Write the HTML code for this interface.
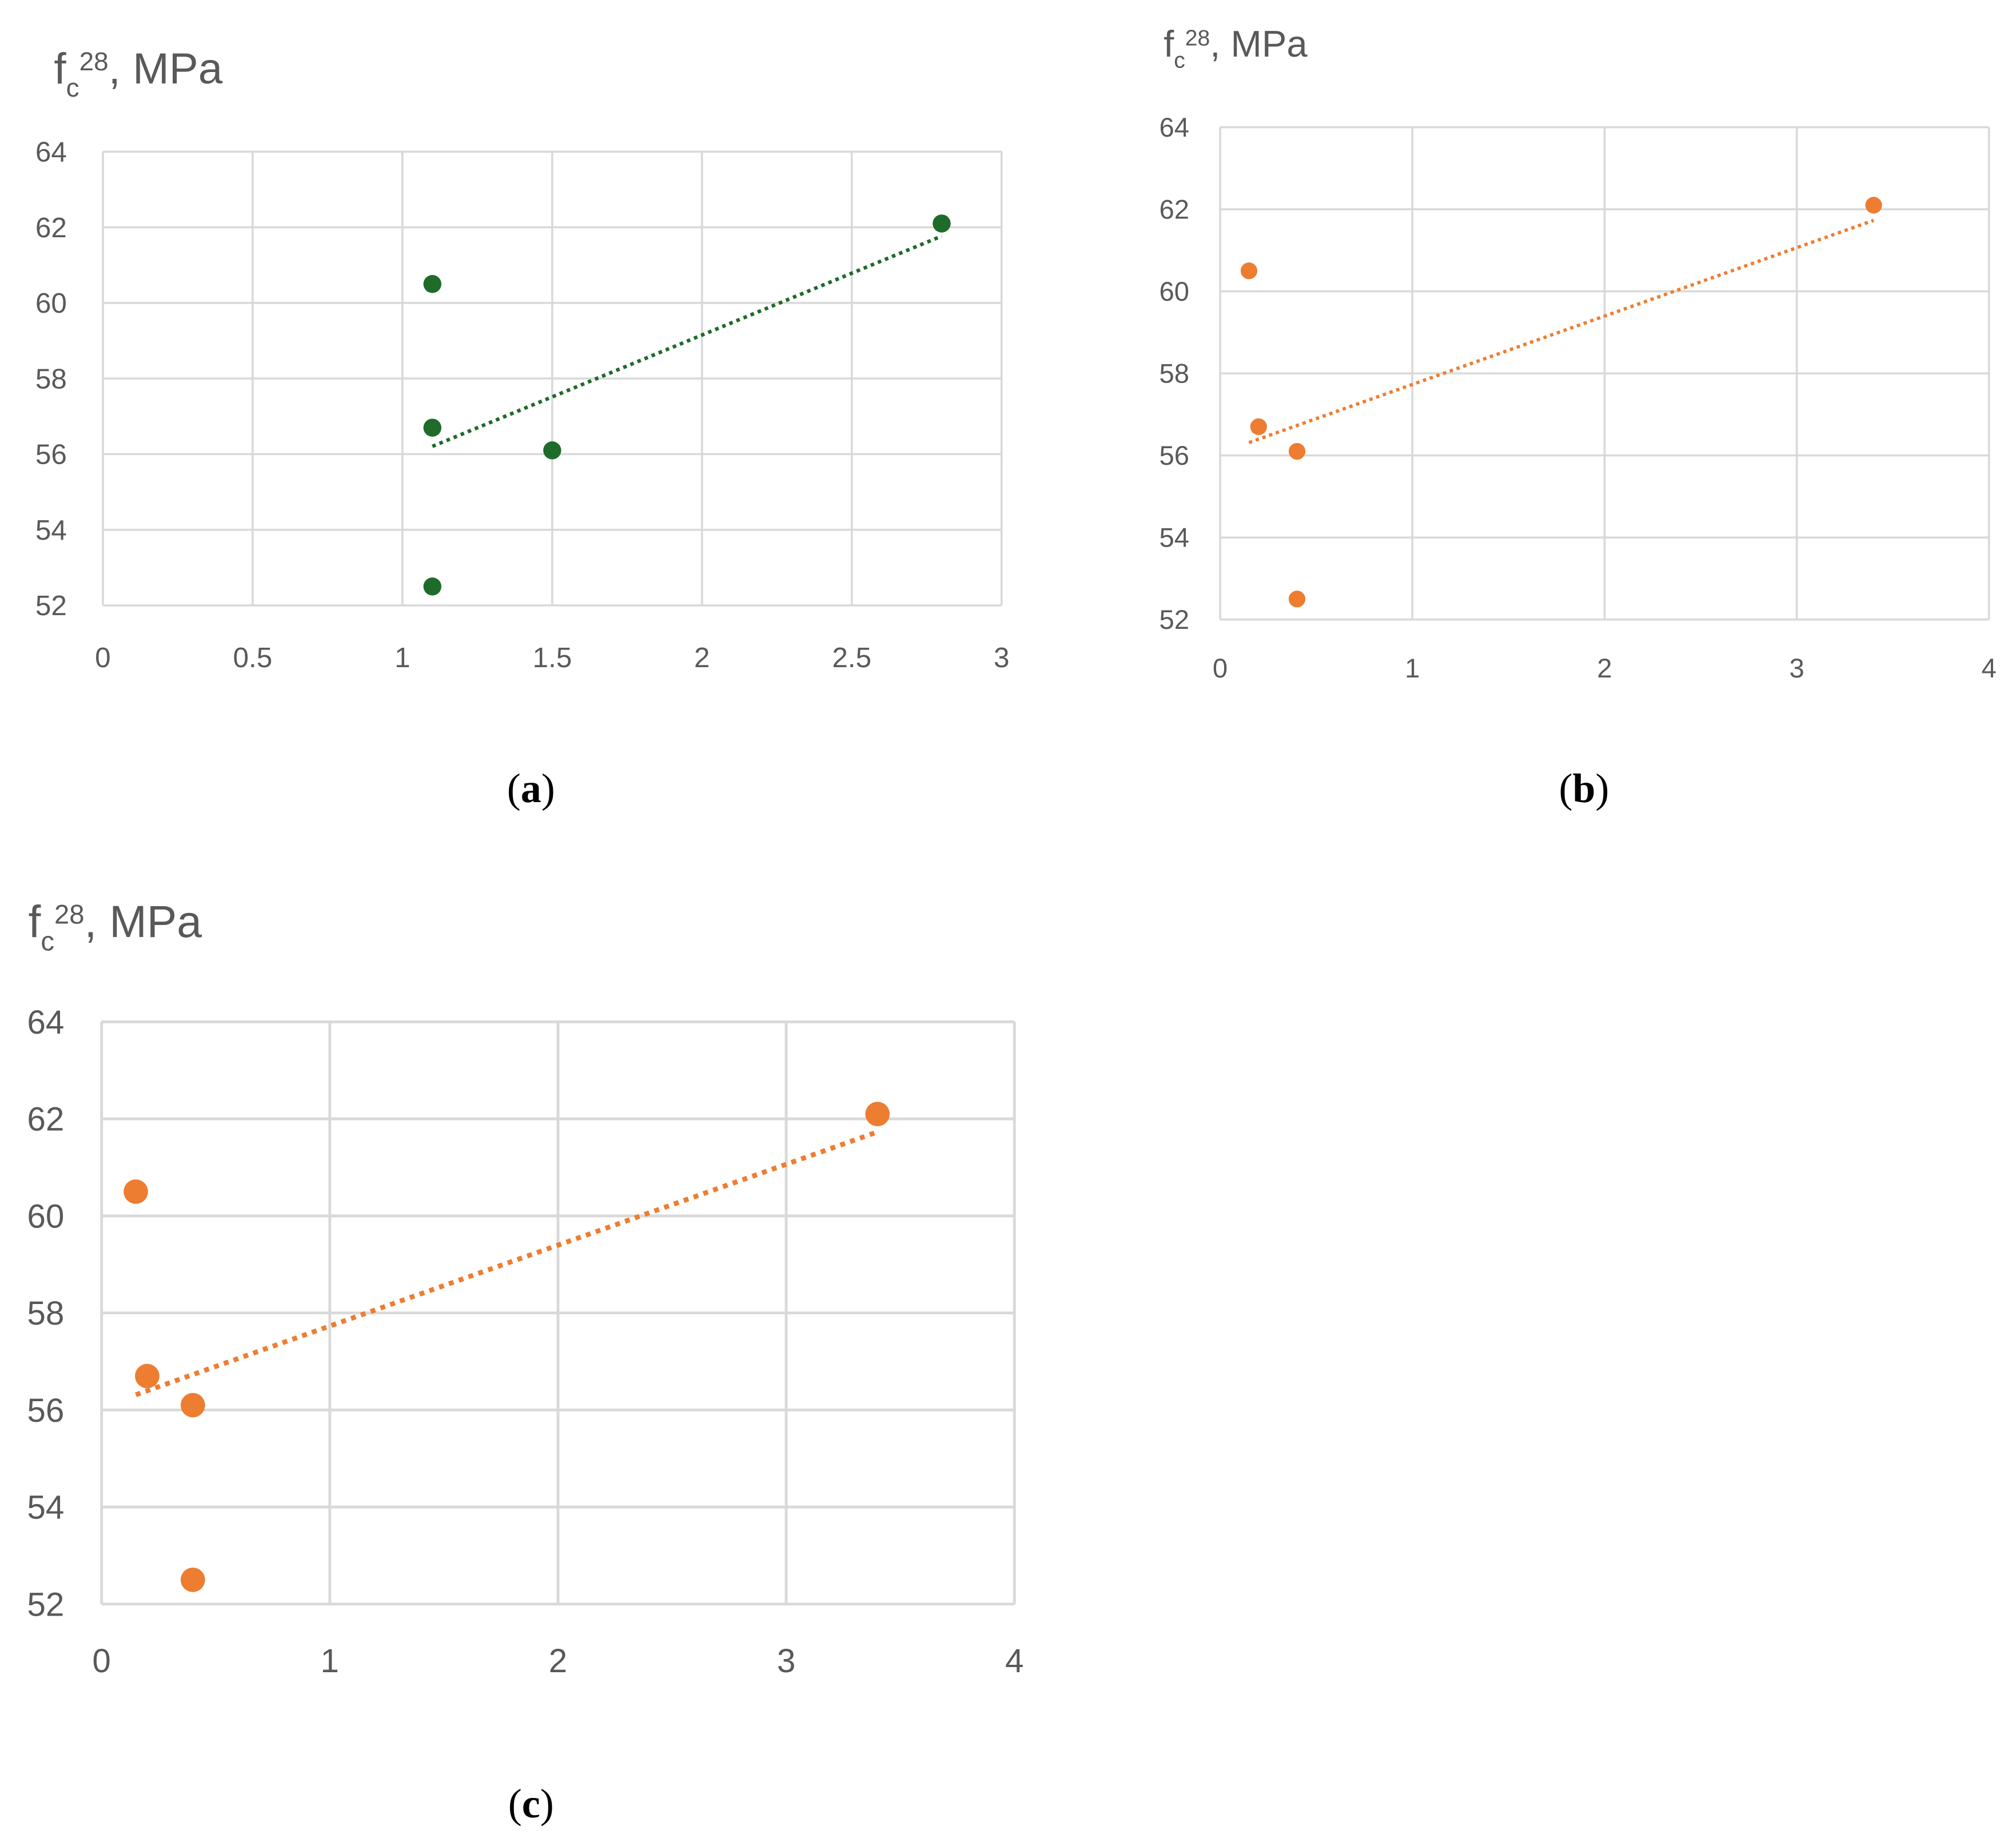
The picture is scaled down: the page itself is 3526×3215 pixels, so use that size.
<!DOCTYPE html>
<html><head><meta charset="utf-8"><style>
html,body{margin:0;padding:0;background:#fff}
svg{display:block}
text{font-family:"Liberation Sans",sans-serif;fill:#595959}
.cap{font-family:"Liberation Serif",serif;fill:#000;font-size:32px}
</style></head><body>
<svg id="fig" width="3526" height="3215" viewBox="0 0 1568 1430" preserveAspectRatio="none" xmlns="http://www.w3.org/2000/svg">
<text class="cap" x="413" y="624" text-anchor="middle">(<tspan font-weight="bold">a</tspan>)</text>
<text class="cap" x="1232" y="624" text-anchor="middle">(<tspan font-weight="bold">b</tspan>)</text>
<text class="cap" x="413" y="1414" text-anchor="middle">(<tspan font-weight="bold">c</tspan>)</text>
</svg>
<script>
const yTicks=[52,54,56,58,60,62,64];
const xTicksA=[0,0.5,1,1.5,2,2.5,3];
const xTicksBC=[0,1,2,3,4];
const xA=[1.1,1.1,1.5,1.1,2.8];
const yA=[60.5,56.7,56.1,52.5,62.1];
const xB=[0.15,0.2,0.4,0.4,3.4];
const yB=[60.5,56.7,56.1,52.5,62.1];
const xC=[0.15,0.2,0.4,0.4,3.4];
const yC=[60.5,56.7,56.1,52.5,62.1];
const svg=document.getElementById('fig');
const NS='http://www.w3.org/2000/svg';
function mk(tag,attrs,parent){const e=document.createElementNS(NS,tag);for(const k in attrs)e.setAttribute(k,attrs[k]);(parent||svg).appendChild(e);return e;}
function chart(id,L,R,T,B,xt,xs,ys,color,r,fs,tfs,tx,ty,lblDx,lblDy,gw){
  const g=mk('g',{});
  
  
  const x0=xt[0],x1=xt[xt.length-1],y0=yTicks[0],y1=yTicks[yTicks.length-1];
  const sx=v=>L+(v-x0)/(x1-x0)*(R-L);
  const sy=v=>B-(v-y0)/(y1-y0)*(B-T);
  yTicks.forEach(v=>{
    const l=mk('line',{x1:L,x2:R,y1:sy(v),y2:sy(v),stroke:'#d9d9d9','stroke-width':gw},g);
    
    
    const t=mk('text',{x:L-lblDx,y:sy(v)+fs*0.35,'text-anchor':'end','font-size':fs},g);
    t.textContent=v;
    
    
  });
  xt.forEach(v=>{
    const l=mk('line',{x1:sx(v),x2:sx(v),y1:T,y2:B,stroke:'#d9d9d9','stroke-width':gw},g);
    
    
    const t=mk('text',{x:sx(v),y:B+lblDy,'text-anchor':'middle','font-size':fs},g);
    t.textContent=v;
    
    
  });
  const n=xs.length;let mx=0,my=0;xs.forEach((v,i)=>{mx+=v;my+=ys[i];});mx/=n;my/=n;
  let sxx=0,sxy=0;xs.forEach((v,i)=>{sxx+=(v-mx)*(v-mx);sxy+=(v-mx)*(ys[i]-my);});
  const k=sxy/sxx,xmin=Math.min(...xs),xmax=Math.max(...xs);
  const tl=mk('line',{x1:sx(xmin),y1:sy(my+k*(xmin-mx)),x2:sx(xmax),y2:sy(my+k*(xmax-mx)),stroke:color,'stroke-width':r*0.4,'stroke-dasharray':(r*0.4)+' '+(r*0.45)},g);
  
  
  xs.forEach((v,i)=>{
    const c=mk('circle',{cx:sx(v),cy:sy(ys[i]),r:r,fill:color},g);
    
    
  });
  const t=mk('text',{x:tx,y:ty,'font-size':tfs},g);
  t.innerHTML='f<tspan font-size="'+(tfs*0.6)+'" dy="'+(tfs*0.3)+'">c</tspan><tspan font-size="'+(tfs*0.6)+'" dy="'+(-tfs*0.6)+'">28</tspan><tspan dy="'+(tfs*0.3)+'">, MPa</tspan>';
  
  
}
chart('a',80,779,118,471,xTicksA,xA,yA,'#1e6b2a',7,22,34,42,65,28,48,1.6);
chart('b',949,1547,99,482,xTicksBC,xB,yB,'#ed7d31',6.5,21,29,905,44,24,45,1.6);
chart('c',79,789,795,1248,xTicksBC,xC,yC,'#ed7d31',9.5,26,35,22,729,29,53,2.2);
</script>
</body></html>
